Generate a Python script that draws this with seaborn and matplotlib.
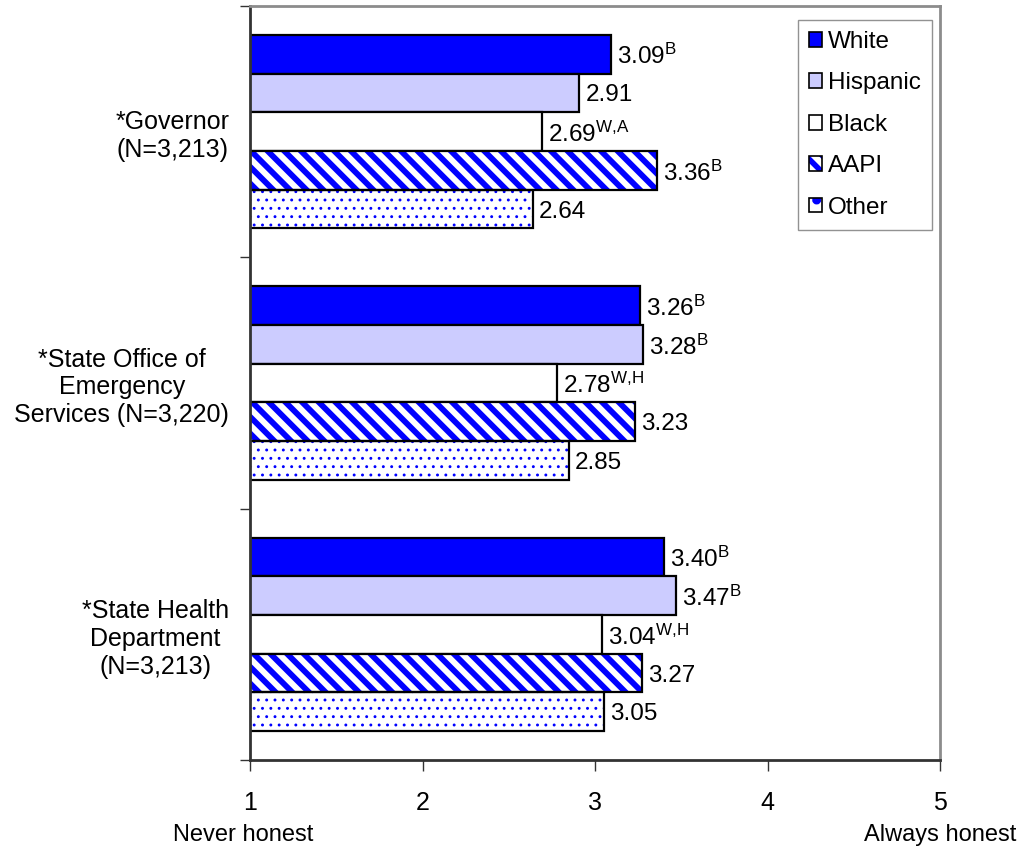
import matplotlib
matplotlib.use("Agg")
import matplotlib.pyplot as plt
import matplotlib.patches as mpatches
from matplotlib.legend_handler import HandlerTuple
from matplotlib.ticker import FixedLocator
import seaborn as sns
import pandas as pd

agencies = ["*Governor\n(N=3,213)",
            "*State Office of\nEmergency\nServices (N=3,220)",
            "*State Health\nDepartment\n(N=3,213)"]
groups = ["White", "Hispanic", "Black", "AAPI", "Other"]
white = [3.09, 3.26, 3.40]
hispanic = [2.91, 3.28, 3.47]
black = [2.69, 2.78, 3.04]
aapi = [3.36, 3.23, 3.27]
other = [2.64, 2.85, 3.05]
sup_white = ["B", "B", "B"]
sup_hispanic = ["", "B", "B"]
sup_black = ["W{,}A", "W{,}H", "W{,}H"]
sup_aapi = ["B", "", ""]
sup_other = ["", "", ""]
xticks = [1, 2, 3, 4, 5]
x_end_labels = ["Never honest", "Always honest"]

series = [white, hispanic, black, aapi, other]
sups = [sup_white, sup_hispanic, sup_black, sup_aapi, sup_other]

rows = []
for g, vals in zip(groups, series):
    for a, v in zip(agencies, vals):
        rows.append({"agency": a, "group": g, "score": v})
df = pd.DataFrame(rows)

sns.set_theme(style="white")
plt.rcParams["font.family"] = ["Liberation Sans", "DejaVu Sans"]
plt.rcParams["mathtext.fontset"] = "custom"
plt.rcParams["mathtext.rm"] = "Liberation Sans"
plt.rcParams["mathtext.it"] = "Liberation Sans"
plt.rcParams["hatch.linewidth"] = 4.0
for k in ["text.color", "axes.labelcolor", "xtick.color", "ytick.color"]:
    plt.rcParams[k] = "black"

fig = plt.figure(figsize=(10.18, 8.48), dpi=100)
ax = fig.add_axes([250 / 1018, 1 - 760 / 848, 690 / 1018, 754 / 848])

face = {"White": "#0000FF", "Hispanic": "#CCCCFF", "Black": "#FFFFFF",
        "AAPI": "#FFFFFF", "Other": "#FFFFFF"}
hatches = {"AAPI": "\\\\", "Other": ".."}
legend_hatches = {"AAPI": "\\\\", "Other": "."}
hatch_lw = {"AAPI": 4.2, "Other": 0.9}
legend_hatch_lw = {"AAPI": 3.0, "Other": 0.5}

sns.barplot(data=df, y="agency", x="score", hue="group", orient="h",
            order=agencies, hue_order=groups, palette=face, width=0.77,
            saturation=1, edgecolor="black", linewidth=1.6, legend=False,
            ax=ax, errorbar=None)

ax.set_xlim(1, 5)
ax.set_ylim(2.5, -0.5)

legend_handles = []
for g, cont, sup in zip(groups, ax.containers, sups):
    for p, v, s in zip(cont.patches, cont.datavalues, sup):
        if g in hatches:
            p.set_hatch(hatches[g])
            p.set_edgecolor("#0000FF")
            p.set_linewidth(0)
            if hasattr(p, "set_hatch_linewidth"):
                p.set_hatch_linewidth(hatch_lw[g])
            ax.add_patch(mpatches.Rectangle((p.get_x(), p.get_y()), p.get_width(),
                                            p.get_height(), fill=False,
                                            edgecolor="black", linewidth=1.6,
                                            zorder=p.get_zorder()))
        lab = f"{v:.2f}" + (r"$^{\mathrm{" + s + "}}$" if s else "")
        ax.text(v + 0.035, p.get_y() + p.get_height() / 2 + 0.01, lab,
                ha="left", va="center", fontsize=17.5, color="black")
    if g in hatches:
        hp = mpatches.Patch(facecolor="white", edgecolor="#0000FF",
                            hatch=legend_hatches[g], linewidth=0)
        if hasattr(hp, "set_hatch_linewidth"):
            hp.set_hatch_linewidth(legend_hatch_lw[g])
        op = mpatches.Patch(facecolor="none", edgecolor="black", linewidth=1.2)
        legend_handles.append((hp, op))
    else:
        legend_handles.append(mpatches.Patch(facecolor=face[g], edgecolor="black", linewidth=1.2))

leg = ax.legend(legend_handles, groups, loc="upper right",
                bbox_to_anchor=((932 - 250) / 690, (760 - 20) / 754),
                fontsize=17.5,
                handler_map={tuple: HandlerTuple(ndivide=1, pad=0)},
                handlelength=0.55, handleheight=0.55, handletextpad=0.25,
                labelspacing=0.8, borderaxespad=0, borderpad=0.45,
                frameon=True, fancybox=False, edgecolor="#777777")
leg.get_frame().set_linewidth(1.0)

# spines
for s in ["left", "bottom"]:
    ax.spines[s].set_color("#333333")
    ax.spines[s].set_linewidth(2)
for s in ["top", "right"]:
    ax.spines[s].set_color("#8c8c8c")
    ax.spines[s].set_linewidth(2)
    ax.spines[s].set_visible(True)

ax.set_xticks(xticks)
ax.set_xticklabels([str(t) for t in xticks], fontsize=18)
ax.tick_params(axis="x", direction="out", length=8, width=1, color="#333333",
               pad=14, bottom=True)
ax.set_yticks(range(len(agencies)))
ax.set_yticklabels(agencies, fontsize=18, multialignment="center")
ax.tick_params(axis="y", which="major", length=0, pad=15)
ax.yaxis.set_minor_locator(FixedLocator([-0.5, 0.5, 1.5, 2.5]))
ax.tick_params(axis="y", which="minor", direction="out", length=7, width=1,
               color="#333333", left=True)
ax.set_xlabel("")
ax.set_ylabel("")
ax.grid(False)

trans = ax.get_xaxis_transform()
ax.text(0.96, -0.1, x_end_labels[0], transform=trans, ha="center", va="center", fontsize=17)
ax.text(5, -0.1, x_end_labels[1], transform=trans, ha="center", va="center", fontsize=17)

fig.savefig("out.png", dpi=100, facecolor="white")
